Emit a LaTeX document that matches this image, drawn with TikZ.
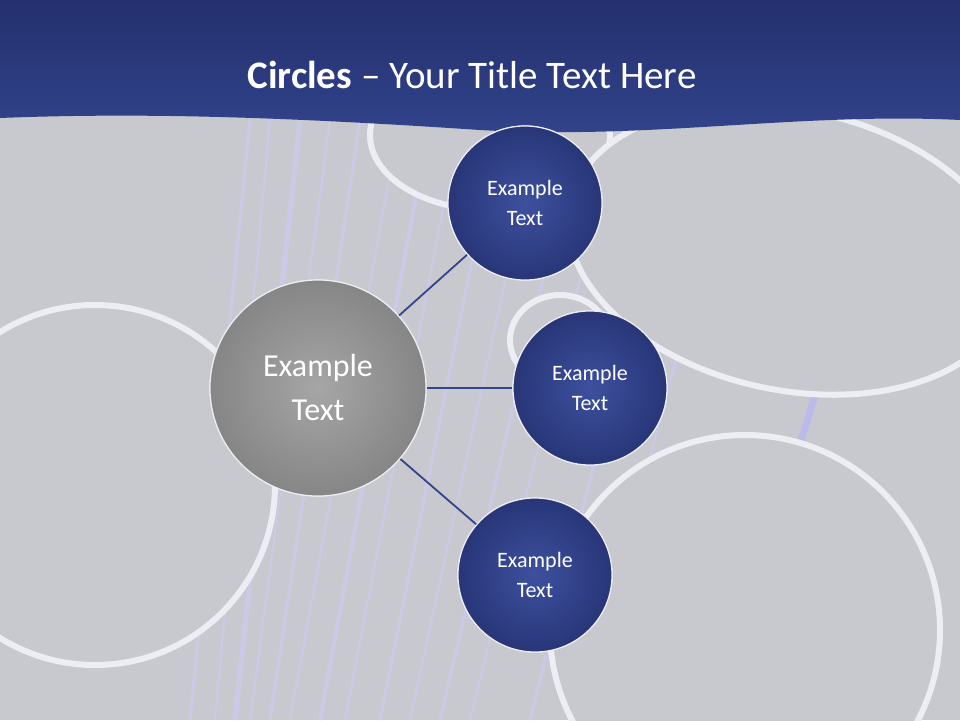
\documentclass[tikz,border=0pt]{standalone}
\usepackage{fontspec}
\setmainfont{Carlito}
\definecolor{hdr}{RGB}{50,68,140}
\definecolor{hdrd}{RGB}{36,48,110}
\definecolor{bl}{RGB}{62,80,158}
\definecolor{bld}{RGB}{40,54,120}
\definecolor{bgg}{RGB}{200,201,206}
\definecolor{ring}{RGB}{236,238,244}
\begin{document}
\begin{tikzpicture}[x=1pt,y=-1pt,
  bluec/.style={circle,minimum size=154pt,draw=ring,line width=1.2pt,inner color=bl,outer color=bld,text=white,font=\fontsize{22}{30}\selectfont,align=center},
  grayc/.style={circle,minimum size=216pt,draw=ring,line width=1.2pt,inner color=gray!70,outer color=gray!95,text=white,font=\fontsize{32}{44}\selectfont,align=center},
  bgring/.style={draw=ring,line width=6pt,fill=bgg},
  conn/.style={draw=hdr,line width=1.8pt},
  streak/.style={white!80!blue,line width=#1}]
\useasboundingbox (0,0) rectangle (960,720);
\fill[bgg] (0,0) rectangle (960,720);
% streaks
\foreach \a/\b/\w in {250/190/3,270/215/2,300/235/5,330/250/2,360/270/3,400/290/2,430/320/4,460/345/2,500/380/3,540/410/2,580/440/3,620/470/2,680/530/3,740/580/2}{
  \draw[streak=\w pt,opacity=0.55] (\a,120) -- (\b,720);}
\draw[blue!30!white,line width=7pt,opacity=0.6] (820,380) -- (720,700);
% background rings
\draw[bgring] (490,135) ellipse (120 and 75);
\draw[bgring] (560,340) ellipse (50 and 45);
\draw[bgring,rotate around={-12:(790,250)}] (790,250) ellipse (225 and 140);
\draw[bgring] (95,485) ellipse (180 and 180);
\draw[bgring] (745,630) ellipse (195 and 195);
% header
\shade[top color=hdrd,bottom color=hdr] (0,0) -- (960,0) -- (960,120) .. controls (800,112) and (650,140) .. (480,130) .. controls (300,118) and (150,112) .. (0,118) -- cycle;
\node[text=white,font=\fontsize{39}{46}\selectfont] (title) at (472,75) {\textbf{Circles} -- Your Title Text Here};
% circles
\node[grayc] (c) at (318,388) {};
\node[bluec] (a) at (525,203) {};
\node[bluec] (b) at (590,388) {};
\node[bluec] (d) at (535,575) {};
\draw[conn] (c) -- (a);
\draw[conn] (c) -- (b);
\draw[conn] (c) -- (d);
\node[grayc] at (318,388) {Example\\Text};
\node[bluec] at (525,203) {Example\\Text};
\node[bluec] at (590,388) {Example\\Text};
\node[bluec] at (535,575) {Example\\Text};
\end{tikzpicture}
\end{document}
